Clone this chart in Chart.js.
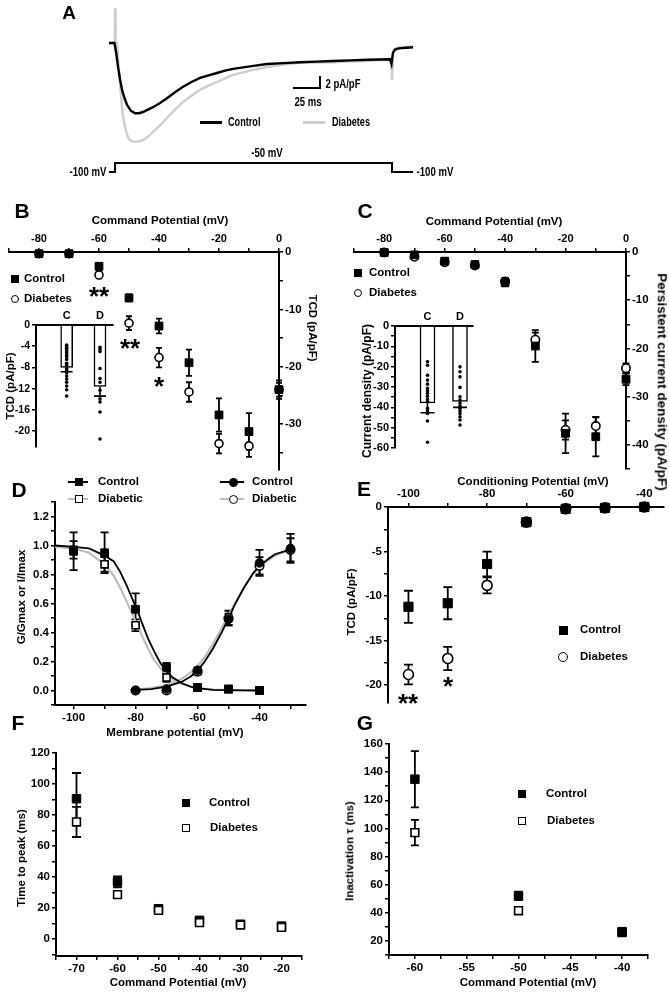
<!DOCTYPE html>
<html><head><meta charset="utf-8">
<script src="https://cdn.jsdelivr.net/npm/chart.js@4"></script>
<style>
html,body{margin:0;padding:0;background:#fff;}
body{width:669px;height:992px;position:relative;overflow:hidden;font-family:'Liberation Sans',Arial,sans-serif;font-weight:bold;}
canvas{position:absolute;}
.t{position:absolute;white-space:nowrap;line-height:1;color:#000;}
.k{position:absolute;box-sizing:border-box;}
</style></head><body>
<script>
// ================= DATA =================
// Panel A: current traces (time in ms, current in pA/pF) and voltage protocol
const aTimeControl = [-5.6,-0.5,0,1.2,2.8,4.6,6.5,8.8,11.1,14.8,18.5,22.2,25.9,30.5,35.2,41.7,48.1,55.6,63.0,70.8,78.7,86.6,94.4,101.9,109.3,125.0,140.7,156.0,171.3,186.6,201.9,217.6,233.3,244.0,254.6,256.0,257.4,259.3,263.0,270.0,276.0];
const aCurControl  = [0,0,-0.5,-1.8,-4.0,-6.0,-7.8,-9.2,-10.3,-11.3,-11.7,-11.7,-11.5,-11.1,-10.7,-10.0,-9.2,-8.2,-7.3,-6.5,-5.8,-5.4,-5.0,-4.6,-4.3,-3.9,-3.5,-3.35,-3.2,-3.1,-3.0,-2.9,-2.8,-2.75,-2.7,-3.5,-1.6,-1.1,-0.9,-0.8,-0.7];
const aTimeDiab = [-5.6,-0.3,0,0.6,1.9,3.2,4.6,6.0,7.4,9.7,12.0,13.9,16.2,18.5,21.3,23.1,25.9,30.5,35.2,41.7,48.1,55.6,63.0,70.8,78.7,86.6,94.4,101.9,109.3,125.0,140.7,156.0,171.3,186.6,201.9,217.6,233.3,244.0,254.6,256.0,256.6,257.6,259.3,263.0,270.0,276.0];
const aCurDiab  = [0,0,5.8,0,0,-3.3,-6.7,-9.7,-12.3,-14.3,-15.7,-16.2,-16.4,-16.5,-16.4,-16.3,-16.2,-15.6,-14.8,-13.7,-12.5,-11.1,-9.8,-8.8,-7.8,-7.1,-6.5,-5.9,-5.3,-4.6,-4.0,-3.6,-3.3,-3.25,-3.2,-3.1,-3.0,-2.9,-2.8,-2.8,-6.2,-1.5,-0.9,-0.7,-0.6,-0.6];
const aProtoT = [-5.6,0,0,256.5,256.5,276];
const aProtoV = [-100,-100,-50,-50,-100,-100];
const aScaleBarT = [164.8,189.8,189.8];   // 25 ms
const aScaleBarI = [-7.5,-7.5,-5.5];      // 2 pA/pF

// Panel B: transient current density vs command potential
const bVolt = [-80,-70,-60,-50,-40,-30,-20,-10,0];
const bControl = [-0.3,-0.3,-2.5,-8.0,-12.9,-19.3,-28.4,-31.3,-24.0];
const bControlErr = [0.3,0.3,0.6,0.6,1.3,2.3,2.9,3.2,1.6];
const bDiab = [-0.3,-0.3,-4.0,-12.4,-18.4,-24.4,-33.4,-33.8,-24.0];
const bDiabErr = [0.3,0.3,0.6,1.2,1.7,1.7,1.7,1.9,1.2];
const bInsetGroups = ['C','D'];
const bInsetMeans = [-8.0,-11.6];
const bInsetSE = [0.8,1.8];
const bInsetDotsC = [-3.8,-4.1,-4.4,-4.8,-5.2,-5.6,-6.0,-6.5,-7.2,-7.6,-8.2,-8.6,-9.0,-9.6,-10.2,-10.8,-11.5,-12.2,-13.4];
const bInsetDotsD = [-4.2,-4.6,-5.0,-8.2,-10.1,-10.8,-12.3,-13.9,-14.5,-16.4,-21.5];

// Panel C: persistent current density
const cVolt = [-80,-70,-60,-50,-40,-30,-20,-10,0];
const cControl = [-0.1,-0.6,-1.9,-2.6,-6.3,-19.5,-37.6,-38.3,-26.4];
const cControlErr = [0.3,0.4,0.4,0.4,0.8,3.3,4.1,4.1,1.2];
const cDiab = [-0.1,-1.0,-2.1,-2.8,-6.1,-18.2,-36.9,-36.1,-24.1];
const cDiabErr = [0.3,0.4,0.4,0.4,0.7,1.5,2.0,1.8,1.0];
const cInsetGroups = ['C','D'];
const cInsetMeans = [-37.8,-37.1];
const cInsetSE = [4.9,2.9];
const cInsetDotsC = [-17.6,-19.3,-24.2,-26.6,-28.6,-30.7,-32,-33.1,-34.5,-36.1,-37.2,-40.5,-41.7,-43,-46.7,-57.2];
const cInsetDotsD = [-20.1,-22.5,-25,-30.2,-34.8,-36.4,-38,-39.4,-40.5,-41.7,-43,-44.6,-46.2,-48.7];

// Panel D: activation / steady-state inactivation
const dInactVolt = [-100,-90,-80,-70,-60,-50,-40];
const dInactControl = [0.96,0.95,0.56,0.16,0.02,0.01,0.0];
const dInactControlErr = [0.13,0.14,0.11,0.03,0.02,0.01,0.01];
const dInactDiab = [0.97,0.87,0.45,0.09,0.02,0.01,0.0];
const dInactDiabErr = [0.06,0.05,0.04,0.03,0.01,0.01,0.01];
const dActVolt = [-80,-70,-60,-50,-40,-30];
const dActControl = [0.0,0.01,0.14,0.49,0.88,0.98];
const dActControlErr = [0.01,0.01,0.02,0.04,0.09,0.10];
const dActDiab = [0.0,0.0,0.13,0.50,0.86,0.97];
const dActDiabErr = [0.01,0.01,0.02,0.05,0.06,0.08];
const dFitInactVolt = [-106,-100,-95,-90,-87,-85,-83,-81,-80,-79,-78,-76,-74,-72,-70,-68,-65,-62,-60,-55,-50,-45,-40];
const dFitInactControl = [1.0,0.99,0.98,0.93,0.89,0.82,0.73,0.63,0.58,0.53,0.47,0.36,0.27,0.19,0.13,0.09,0.05,0.025,0.016,0.005,0.002,0.001,0];
const dFitInactDiab = [0.99,0.98,0.95,0.87,0.79,0.71,0.62,0.525,0.475,0.43,0.38,0.29,0.21,0.155,0.11,0.076,0.043,0.024,0.016,0.006,0.002,0.001,0];
const dFitActVolt = [-80,-75,-70,-65,-62,-60,-58,-55,-52,-50,-48,-45,-42,-40,-37,-35,-32,-30];
const dFitActControl = [0.004,0.01,0.026,0.061,0.10,0.14,0.19,0.29,0.41,0.5,0.59,0.71,0.81,0.86,0.91,0.94,0.96,0.975];
const dFitActDiab = [0.007,0.017,0.037,0.082,0.128,0.17,0.22,0.32,0.44,0.52,0.60,0.71,0.81,0.85,0.90,0.93,0.956,0.968];

// Panel E: TCD vs conditioning potential
const eVolt = [-100,-90,-80,-70,-60,-50,-40];
const eControl = [-11.2,-10.8,-6.4,-1.7,-0.2,-0.1,0];
const eControlErr = [1.8,1.8,1.4,0.3,0.2,0.1,0.1];
const eDiab = [-18.8,-17.0,-8.8,-1.7,-0.2,-0.1,0];
const eDiabErr = [1.1,1.3,0.9,0.3,0.2,0.1,0.1];

// Panel F: time to peak
const fVolt = [-70,-60,-50,-40,-30,-20];
const fControl = [90.5,36.8,19.5,12.0,9.5,8.3];
const fControlErr = [16.6,3.5,2.0,2.0,1.5,1.2];
const fDiab = [75.5,28.6,18.5,10.5,9.0,7.5];
const fDiabErr = [9.7,2.0,1.5,1.5,1.2,1.0];

// Panel G: inactivation tau
const gVolt = [-60,-50,-40];
const gControl = [135,52,26.6];
const gControlErr = [20,3,2];
const gDiab = [97,41.5,26];
const gDiabErr = [9,1.5,1.5];

// ================= HELPERS =================
Chart.defaults.font.family = "'Liberation Sans', Arial, sans-serif";
Chart.defaults.font.weight = 'bold';
Chart.defaults.font.size = 11;
Chart.defaults.color = '#000';

const zip = (xs, ys) => xs.map((x, i) => ({x: x, y: ys[i]}));

const errPlugin = {
  id: 'errbars',
  beforeDatasetsDraw(chart) {
    const ctx = chart.ctx;
    chart.data.datasets.forEach((ds, i) => {
      if (!ds.errors) return;
      const meta = chart.getDatasetMeta(i);
      const xs = chart.scales[meta.xAxisID], ys = chart.scales[meta.yAxisID];
      ctx.save();
      ctx.strokeStyle = '#000';
      ctx.lineWidth = ds.errWidth || 1.8;
      const c = ds.capHalf || 3.5;
      ds.data.forEach((p, j) => {
        const e = ds.errors[j];
        if (!e) return;
        const x = xs.getPixelForValue(p.x);
        const yT = ys.getPixelForValue(ds.errDown ? p.y : p.y + e);
        const yB = ys.getPixelForValue(p.y - e);
        ctx.beginPath();
        ctx.moveTo(x, yT); ctx.lineTo(x, yB);
        if (!ds.errDown) { ctx.moveTo(x - c, yT); ctx.lineTo(x + c, yT); }
        ctx.moveTo(x - c, yB); ctx.lineTo(x + c, yB);
        ctx.stroke();
      });
      ctx.restore();
    });
  }
};

function lin(o) {
  const vert = (o.pos === 'left' || o.pos === 'right');
  return {
    type: 'linear', position: o.pos, min: o.min, max: o.max, offset: false,
    border: {display: true, color: '#000', width: o.bw || 2},
    grid: {display: o.tl !== 0, drawOnChartArea: false, drawTicks: true, tickLength: o.tl === undefined ? 4 : o.tl, color: '#000', lineWidth: 1.5},
    ticks: {
      stepSize: o.step, includeBounds: false, autoSkip: false, maxRotation: 0, minRotation: 0, padding: o.pad === undefined ? 2 : o.pad,
      font: {size: o.fs || 11, weight: 'bold'}, color: '#000',
      callback: o.labels ? o.labels : (v) => {
        const r = Math.round(v / o.major);
        if (Math.abs(r * o.major - v) > 1e-6) return '';
        return o.fmt ? o.fmt(v) : String(Math.round(v * 1000) / 1000);
      }
    },
    afterFit: (s) => {
      if (vert) s.width = o.size; else s.height = o.size;
      s.paddingLeft = 0; s.paddingRight = 0; s.paddingTop = 0; s.paddingBottom = 0;
    }
  };
}

const PAD = 10;
function chartAt(L, T, R, B, ax, cfg, noPad) {
  const p = noPad ? 0 : PAD;
  const cl = L - (ax.left || 0) - p, ct = T - (ax.top || 0) - p;
  const cw = Math.round(R + (ax.right || 0) + p - cl), ch = Math.round(B + (ax.bottom || 0) + p - ct);
  const c = document.createElement('canvas');
  c.width = cw; c.height = ch;
  c.style.left = cl + 'px'; c.style.top = ct + 'px';
  c.style.width = cw + 'px'; c.style.height = ch + 'px';
  document.body.appendChild(c);
  cfg.options = Object.assign({
    responsive: false, animation: false, devicePixelRatio: 1, events: [],
    layout: {padding: p, autoPadding: false},
    plugins: {legend: {display: false}, tooltip: {enabled: false}}
  }, cfg.options);
  cfg.plugins = [errPlugin];
  return new Chart(c, cfg);
}

const sq = (data, r, extra) => Object.assign({data: data, pointStyle: 'rect', pointRadius: r, backgroundColor: '#000', borderColor: '#000', borderWidth: 1, clip: false}, extra || {});
const osq = (data, r, extra) => Object.assign({data: data, pointStyle: 'rect', pointRadius: r, backgroundColor: '#fff', borderColor: '#000', borderWidth: 1.6, clip: false}, extra || {});
const ci = (data, r, extra) => Object.assign({data: data, pointStyle: 'circle', pointRadius: r, backgroundColor: '#000', borderColor: '#000', borderWidth: 1, clip: false}, extra || {});
const oci = (data, r, extra) => Object.assign({data: data, pointStyle: 'circle', pointRadius: r, backgroundColor: '#fff', borderColor: '#000', borderWidth: 1.6, clip: false}, extra || {});
const curve = (data, color, w) => ({data: data, showLine: true, pointRadius: 0, borderColor: color, borderWidth: w, tension: 0, clip: false});

// ================= PANEL A =================
chartAt(0, 0, 669, 190, {}, {
  type: 'scatter',
  data: {datasets: [
    curve(zip(aTimeControl, aCurControl), '#000', 2.4),
    curve(zip(aTimeDiab, aCurDiab), '#cdcdcd', 2.4),
    Object.assign(curve(zip(aProtoT, aProtoV), '#000', 2), {yAxisID: 'yv'}),
    curve(zip(aScaleBarT, aScaleBarI), '#000', 2)
  ]},
  options: {scales: {
    x: {type: 'linear', display: false, min: -106.5, max: 513},
    y: {type: 'linear', display: false, min: -24.5, max: 7.17},
    yv: {type: 'linear', display: false, min: -200, max: 855.6}
  }}
}, true);

// ================= PANEL B =================
chartAt(9, 252, 279, 470, {top: 24, right: 34}, {
  type: 'scatter',
  data: {datasets: [
    sq(zip(bVolt, bControl), 5.5, {errors: bControlErr, capHalf: 3}),
    oci(zip(bVolt, bDiab), 4, {errors: bDiabErr, capHalf: 3})
  ]},
  options: {scales: {
    x: lin({pos: 'top', min: -90, max: 0, step: 10, major: 20, size: 24, fs: 11}),
    y: lin({pos: 'right', min: -38, max: 0, step: 5, major: 10, size: 34, fs: 11.5})
  }}
});
// B inset
chartAt(36, 325, 113, 447, {top: 16, left: 32}, {
  type: 'bar',
  data: {datasets: [
    {type: 'scatter', data: bInsetDotsC.map(v => ({x: 1, y: v})).concat(bInsetDotsD.map(v => ({x: 2, y: v}))), pointRadius: 1.8, backgroundColor: '#000', borderWidth: 0, clip: false},
    {type: 'bar', data: zip([1, 2], bInsetMeans), backgroundColor: '#fff', borderColor: '#000', borderWidth: 1.5, barThickness: 12, errors: bInsetSE, errDown: true, capHalf: 6, errWidth: 1.6}
  ]},
  options: {scales: {
    x: lin({pos: 'top', min: 0.08, max: 2.39, step: 1, size: 16, tl: 0, fs: 11, labels: v => (v === 1 ? bInsetGroups[0] : v === 2 ? bInsetGroups[1] : '')}),
    y: lin({pos: 'left', min: -23, max: 0, step: 4, major: 4, size: 32, fs: 10.5})
  }}
});

// ================= PANEL C =================
chartAt(354, 252, 626, 469, {top: 24, right: 34}, {
  type: 'scatter',
  data: {datasets: [
    sq(zip(cVolt, cControl), 5.5, {errors: cControlErr, capHalf: 3.5}),
    oci(zip(cVolt, cDiab), 4.2, {errors: cDiabErr, capHalf: 3.5})
  ]},
  options: {scales: {
    x: lin({pos: 'top', min: -90, max: 0, step: 10, major: 20, size: 24, fs: 11}),
    y: lin({pos: 'right', min: -45, max: 0, step: 5, major: 10, size: 34, fs: 11.5})
  }}
});
// C inset
chartAt(395, 326, 473, 448, {top: 16, left: 32}, {
  type: 'bar',
  data: {datasets: [
    {type: 'scatter', data: cInsetDotsC.map(v => ({x: 1, y: v})).concat(cInsetDotsD.map(v => ({x: 2, y: v}))), pointRadius: 1.8, backgroundColor: '#000', borderWidth: 0, clip: false},
    {type: 'bar', data: zip([1, 2], cInsetMeans), backgroundColor: '#fff', borderColor: '#000', borderWidth: 1.5, barThickness: 15, errors: cInsetSE, errDown: true, capHalf: 7, errWidth: 1.6}
  ]},
  options: {scales: {
    x: lin({pos: 'top', min: 0, max: 2.4, step: 1, size: 16, tl: 0, fs: 11, labels: v => (v === 1 ? cInsetGroups[0] : v === 2 ? cInsetGroups[1] : '')}),
    y: lin({pos: 'left', min: -60, max: 0, step: 5, major: 10, size: 32, fs: 11})
  }}
});

// ================= PANEL D =================
chartAt(55, 502, 306, 705, {left: 40, bottom: 22}, {
  type: 'scatter',
  data: {datasets: [
    sq(zip(dInactVolt, dInactControl), 5.5, {errors: dInactControlErr, capHalf: 4}),
    ci(zip(dActVolt, dActControl), 4.3, {errors: dActControlErr, capHalf: 4}),
    osq(zip(dInactVolt, dInactDiab), 5, {errors: dInactDiabErr, capHalf: 4}),
    oci(zip(dActVolt, dActDiab), 4.3, {errors: dActDiabErr, capHalf: 4}),
    curve(zip(dFitInactVolt, dFitInactControl), '#000', 1.8),
    curve(zip(dFitActVolt, dFitActControl), '#000', 1.8),
    curve(zip(dFitInactVolt, dFitInactDiab), '#bdbdbd', 2.2),
    curve(zip(dFitActVolt, dFitActDiab), '#bdbdbd', 2.2)
  ]},
  options: {scales: {
    x: lin({pos: 'bottom', min: -106, max: -25, step: 10, major: 20, size: 22, fs: 11.5}),
    y: lin({pos: 'left', min: -0.1, max: 1.3, step: 0.1, major: 0.2, size: 40, fs: 11.5, fmt: v => (Math.round(v * 10) / 10).toFixed(1)})
  }}
});

// ================= PANEL E =================
chartAt(388, 507, 664, 703, {left: 36, top: 22}, {
  type: 'scatter',
  data: {datasets: [
    sq(zip(eVolt, eControl), 6.5, {errors: eControlErr, capHalf: 4.5}),
    oci(zip(eVolt, eDiab), 5, {errors: eDiabErr, capHalf: 4.5})
  ]},
  options: {scales: {
    x: lin({pos: 'top', min: -105.2, max: -35, step: 10, major: 20, size: 22, fs: 11.5}),
    y: lin({pos: 'left', min: -22, max: 0, step: 2.5, major: 5, size: 36, fs: 11.5})
  }}
});

// ================= PANEL F =================
chartAt(56, 753, 302, 956, {left: 40, bottom: 22}, {
  type: 'scatter',
  data: {datasets: [
    osq(zip(fVolt, fDiab), 5.5, {errors: fDiabErr, capHalf: 4.5}),
    sq(zip(fVolt, fControl), 6, {errors: fControlErr, capHalf: 4.5})
  ]},
  options: {scales: {
    x: lin({pos: 'bottom', min: -75, max: -15, step: 5, major: 10, size: 22, fs: 11.5}),
    y: lin({pos: 'left', min: -11, max: 120, step: 10, major: 20, size: 40, fs: 11.5})
  }}
});

// ================= PANEL G =================
chartAt(389, 744, 648, 955, {left: 40, bottom: 22}, {
  type: 'scatter',
  data: {datasets: [
    sq(zip(gVolt, gControl), 6, {errors: gControlErr, capHalf: 4}),
    osq(zip(gVolt, gDiab), 5.5, {errors: gDiabErr, capHalf: 4})
  ]},
  options: {scales: {
    x: lin({pos: 'bottom', min: -62.5, max: -37.5, step: 2.5, major: 5, size: 22, fs: 11.5}),
    y: lin({pos: 'left', min: 10, max: 160, step: 10, major: 20, size: 40, fs: 11.5})
  }}
});

// ================= TEXT & LEGEND KEYS =================
function T(s, x, y, o) {
  o = o || {};
  const d = document.createElement('div');
  d.className = 't';
  d.textContent = s;
  d.style.left = x + 'px'; d.style.top = y + 'px';
  d.style.fontSize = (o.fs || 11.5) + 'px';
  const sx = o.sx ? ' scaleX(' + o.sx + ')' : '';
  if (o.left) { d.style.transformOrigin = '0 50%'; d.style.transform = 'translate(0,-50%)' + sx; }
  else d.style.transform = 'translate(-50%,-50%)' + (o.rot ? ' rotate(' + o.rot + 'deg)' : '') + sx;
  document.body.appendChild(d);
}
function K(shape, x, y, size, fill) {
  const d = document.createElement('div');
  d.className = 'k';
  d.style.left = (x - size / 2) + 'px'; d.style.top = (y - size / 2) + 'px';
  d.style.width = size + 'px'; d.style.height = size + 'px';
  d.style.background = fill ? '#000' : '#fff';
  d.style.border = fill ? 'none' : '1.6px solid #000';
  if (shape === 'circle') d.style.borderRadius = '50%';
  document.body.appendChild(d);
}
function Ln(x1, x2, y, th, color) {
  const d = document.createElement('div');
  d.className = 'k';
  d.style.left = x1 + 'px'; d.style.top = (y - th / 2) + 'px';
  d.style.width = (x2 - x1) + 'px'; d.style.height = th + 'px';
  d.style.background = color;
  document.body.appendChild(d);
}
const STAR = 26, starDy = 6;

// Panel letters
T('A', 69, 12, {fs: 19});
T('B', 22, 210, {fs: 21});
T('C', 365, 210, {fs: 21});
T('D', 19, 489, {fs: 21});
T('E', 364, 488, {fs: 21});
T('F', 18, 722, {fs: 21});
T('G', 365, 722, {fs: 21});

// Panel A texts
T('2 pA/pF', 343, 84, {fs: 12, sx: 0.8});
T('25 ms', 308, 101.5, {fs: 12, sx: 0.8});
Ln(200, 222, 122, 3, '#000'); T('Control', 228, 122, {fs: 12, sx: 0.76, left: true});
Ln(303, 325, 122, 3, '#cdcdcd'); T('Diabetes', 332, 122, {fs: 12, sx: 0.76, left: true});
T('-50 mV', 267, 153, {fs: 12, sx: 0.8});
T('-100 mV', 88, 172, {fs: 12, sx: 0.8});
T('-100 mV', 435, 172, {fs: 12, sx: 0.8});

// Panel B texts
T('Command Potential (mV)', 160, 221);
T('TCD (pA/pF)', 312, 328, {rot: 90});
T('TCD (pA/pF)', 11, 386, {rot: -90});
K('rect', 15, 279, 7.5, true); T('Control', 24, 279, {left: true});
K('circle', 15, 299, 8.5, false); T('Diabetes', 24, 299, {left: true});
T('**', 99, 290 + starDy, {fs: STAR});
T('**', 130, 342 + starDy, {fs: STAR});
T('*', 159, 380 + starDy, {fs: STAR});

// Panel C texts
T('Command Potential (mV)', 494, 222);
T('Persistent current density  (pA/pF)', 662, 382, {rot: 90, fs: 13.5});
T('Current density  (pA/pF)', 367, 391, {rot: -90, fs: 12});
K('rect', 358, 273, 7.5, true); T('Control', 369, 273, {left: true});
K('circle', 358, 293, 8.5, false); T('Diabetes', 369, 293, {left: true});

// Panel D texts
Ln(68, 88, 482, 2, '#000'); K('rect', 79, 482, 8, true); T('Control', 98, 482, {left: true});
Ln(68, 88, 499, 2, '#bdbdbd'); K('rect', 79, 499, 8, false); T('Diabetic', 98, 499, {left: true});
Ln(220, 244, 482, 2, '#000'); K('circle', 233, 482, 9, true); T('Control', 252, 482, {left: true});
Ln(220, 244, 499, 2, '#bdbdbd'); K('circle', 233, 499, 9, false); T('Diabetic', 252, 499, {left: true});
T('G/Gmax or I/Imax', 22, 597, {rot: -90});
T('Membrane potential (mV)', 175, 733);

// Panel E texts
T('Conditioning Potential (mV)', 533, 482);
T('TCD (pA/pF)', 352, 602, {rot: -90});
K('rect', 563, 630, 9, true); T('Control', 580, 630, {left: true});
K('circle', 563, 657, 10, false); T('Diabetes', 580, 657, {left: true});
T('**', 408, 697 + starDy, {fs: STAR});
T('*', 448, 680 + starDy, {fs: STAR});

// Panel F texts
T('Time to peak (ms)', 22, 858, {rot: -90});
T('Command Potential (mV)', 178, 983);
K('rect', 186, 803, 8, true); T('Control', 209, 803, {left: true});
K('rect', 186, 828, 8, false); T('Diabetes', 210, 828, {left: true});

// Panel G texts
T('Inactivation \u03c4 (ms)', 350, 851, {rot: -90});
T('Command Potential (mV)', 528, 983);
K('rect', 522, 794, 8, true); T('Control', 546, 794, {left: true});
K('rect', 522, 821, 8, false); T('Diabetes', 547, 821, {left: true});
</script>
</body></html>
